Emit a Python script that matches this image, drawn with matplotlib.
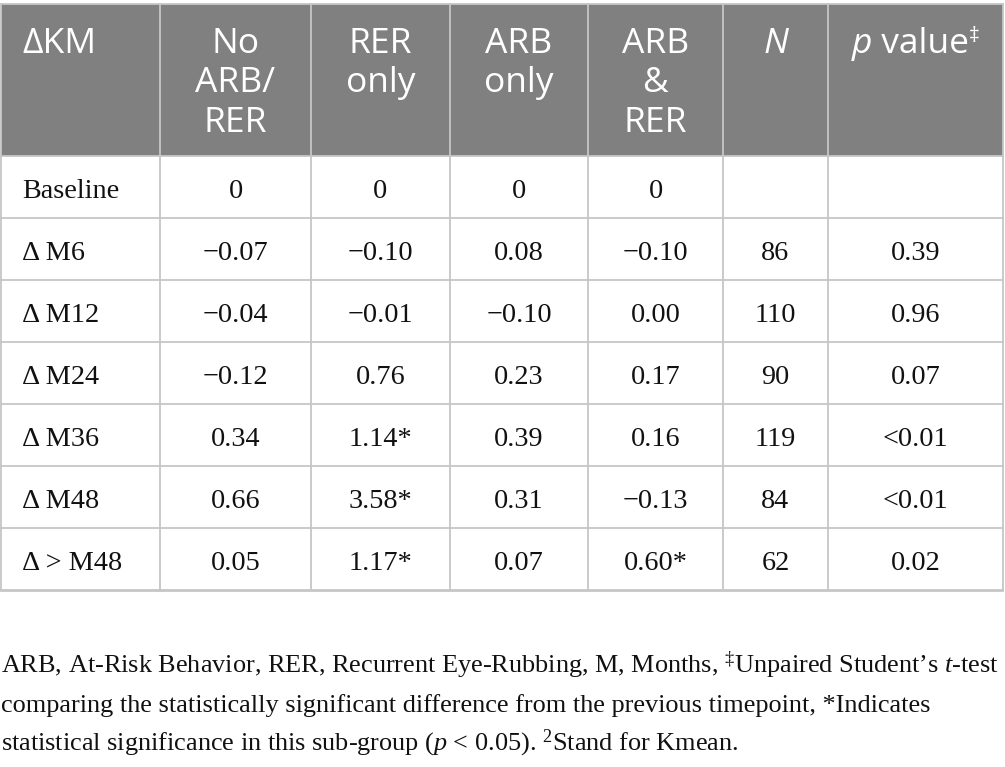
import matplotlib
matplotlib.use("Agg")
import matplotlib.pyplot as plt
from matplotlib.patches import Rectangle

W, H = 1005, 767

headers = ["ΔKM", "No\nARB/\nRER", "RER\nonly", "ARB\nonly", "ARB\n&\nRER", "N", "p value‡"]
row_labels = ["Baseline", "Δ M6", "Δ M12", "Δ M24", "Δ M36", "Δ M48", "Δ > M48"]
no_arb_rer = ["0", "−0.07", "−0.04", "−0.12", "0.34", "0.66", "0.05"]
rer_only = ["0", "−0.10", "−0.01", "0.76", "1.14*", "3.58*", "1.17*"]
arb_only = ["0", "0.08", "−0.10", "0.23", "0.39", "0.31", "0.07"]
arb_rer = ["0", "−0.10", "0.00", "0.17", "0.16", "−0.13", "0.60*"]
n_vals = ["", "86", "110", "90", "119", "84", "62"]
p_vals = ["", "0.39", "0.96", "0.07", "<0.01", "<0.01", "0.02"]

footnote = [
    "ARB, At-Risk Behavior, RER, Recurrent Eye-Rubbing, M, Months, $^‡$Unpaired Student’s $\\it{t}$-test",
    "comparing the statistically significant difference from the previous timepoint, *Indicates",
    "statistical significance in this sub-group ($\\it{p}$ < 0.05). $^2$Stand for Kmean.",
]

columns = [row_labels, no_arb_rer, rer_only, arb_only, arb_rer, n_vals, p_vals]

plt.rcParams["mathtext.fontset"] = "custom"
plt.rcParams["mathtext.it"] = "Liberation Serif:italic"
plt.rcParams["mathtext.rm"] = "Liberation Serif"

col_edges = [1, 160, 311, 450, 588, 723, 828, 1003]
head_top, head_bot = 4, 156
row_h = 62
n_rows = len(row_labels)

fig = plt.figure(figsize=(W / 100, H / 100), dpi=100)
ax = fig.add_axes([0, 0, 1, 1])
ax.set_xlim(0, W)
ax.set_ylim(H, 0)
ax.axis("off")
renderer = fig.canvas.get_renderer()

grid_c = "#c6c6c6"
head_c = "#808080"

ax.add_patch(Rectangle((col_edges[0], head_top), col_edges[-1] - col_edges[0],
                       head_bot - head_top, facecolor=head_c, edgecolor="none", zorder=1))

table_bot = head_bot + n_rows * row_h
for x in col_edges:
    ax.plot([x, x], [head_top, table_bot], color=grid_c, lw=1.3, zorder=2)
ax.plot([col_edges[0], col_edges[-1]], [head_top, head_top], color=grid_c, lw=1.3, zorder=2)
for i in range(n_rows + 1):
    y = head_bot + i * row_h
    ax.plot([col_edges[0], col_edges[-1]], [y, y], color=grid_c, lw=1.3, zorder=2)
ax.plot([col_edges[0], col_edges[-1]], [table_bot + 1, table_bot + 1], color=grid_c, lw=1.3, zorder=2)

sans = ["Open Sans", "DejaVu Sans"]
serif = ["Liberation Serif", "DejaVu Serif"]
HFS = 25.5


def seg_width(s, **kw):
    t = ax.text(0, 0, s, **kw)
    w = t.get_window_extent(renderer).width
    t.remove()
    return w


def draw_segments(cx, y, segs):
    widths = [seg_width(s, **kw) for s, kw, dy in segs]
    x = cx - sum(widths) / 2
    for (s, kw, dy), w in zip(segs, widths):
        ax.text(x, y + dy, s, ha="left", va="baseline", zorder=3, **kw)
        x += w


hkw = dict(fontsize=HFS, color="white", family=sans)
for j, h in enumerate(headers):
    cx = (col_edges[j] + col_edges[j + 1]) / 2 if j > 0 else None
    if j == 5:
        ax.text(cx, 53, h, ha="center", va="baseline", style="italic", zorder=3, **hkw)
        continue
    if j == 6:
        draw_segments(cx, 53, [
            ("p", dict(hkw, style="italic"), 0),
            (" value", hkw, 0),
            ("‡", dict(hkw, fontsize=HFS * 0.6), -11),
        ])
        continue
    for k, ln in enumerate(h.split("\n")):
        y = 53 + k * 39.5
        if j == 0:
            ax.text(22, y, ln, ha="left", va="baseline", zorder=3, **hkw)
        else:
            ax.text(cx, y, ln, ha="center", va="baseline", zorder=3, **hkw)

BFS = 20.3
for j, col in enumerate(columns):
    for i, val in enumerate(col):
        y = head_bot + i * row_h + 42
        if j == 0:
            ax.text(22, y, val, ha="left", va="baseline", fontsize=BFS, color="#111111",
                    family=serif, zorder=3)
        else:
            cx = (col_edges[j] + col_edges[j + 1]) / 2
            ax.text(cx, y, val, ha="center", va="baseline", fontsize=BFS, color="#111111",
                    family=serif, zorder=3)

for k, ln in enumerate(footnote):
    ax.text(1, 673 + k * 38.7, ln, ha="left", va="baseline", fontsize=18.9, color="#111111",
            family=serif, zorder=3)

fig.savefig("out.png", dpi=100)
